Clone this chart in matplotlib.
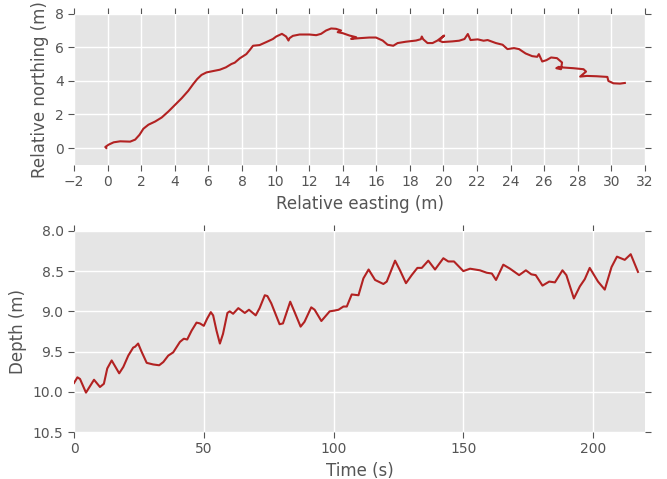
import matplotlib
matplotlib.use("Agg")
import matplotlib.pyplot as plt
import numpy as np

# horizontal track (m)
east = [-0.08, -0.14, 0.06, 0.36, 0.75, 1.34, 1.64, 1.90, 2.13, 2.43, 2.83, 3.22,
        3.62, 4.01, 4.41, 4.80, 5.10, 5.34, 5.59, 5.89, 6.28, 6.68, 7.04, 7.37,
        7.57, 7.87, 8.26, 8.46, 8.66, 9.05, 9.45, 9.84, 10.04, 10.38, 10.63, 10.77,
        10.83, 11.03, 11.43, 12.02, 12.42, 12.71, 13.01, 13.31, 13.60, 13.90, 13.70,
        14.0, 14.4, 14.8, 14.5, 14.99, 15.58, 15.98, 16.38, 16.67, 17.01, 17.27,
        17.76, 18.36, 18.65, 18.71, 18.79, 19.05, 19.35, 19.64, 20.04, 19.74, 19.94,
        20.53, 20.93, 21.25, 21.45, 21.61, 22.04, 22.39, 22.63, 23.12, 23.52, 23.81,
        24.20, 24.50, 24.89, 25.28, 25.58, 25.68, 25.88, 26.13, 26.41, 26.76, 27.06,
        27.00, 26.72, 26.86, 27.15, 27.74, 28.34, 28.49, 28.14, 28.54, 29.13, 29.76,
        29.82, 30.12, 30.51, 30.80]
north = [0.0, 0.06, 0.20, 0.34, 0.40, 0.38, 0.50, 0.79, 1.15, 1.39, 1.58, 1.82,
         2.18, 2.57, 2.97, 3.41, 3.82, 4.12, 4.36, 4.51, 4.59, 4.67, 4.81, 5.01,
         5.09, 5.35, 5.60, 5.84, 6.10, 6.14, 6.32, 6.50, 6.65, 6.81, 6.65, 6.41,
         6.55, 6.69, 6.77, 6.77, 6.73, 6.81, 7.01, 7.13, 7.11, 7.01, 6.91,
         6.85, 6.71, 6.61, 6.51, 6.55, 6.59, 6.59, 6.41, 6.16, 6.10, 6.26,
         6.34, 6.41, 6.49, 6.65, 6.49, 6.26, 6.26, 6.41, 6.71, 6.41, 6.32,
         6.36, 6.40, 6.50, 6.80, 6.44, 6.48, 6.40, 6.44, 6.26, 6.16, 5.90,
         5.96, 5.90, 5.64, 5.48, 5.44, 5.60, 5.16, 5.24, 5.40, 5.36, 5.10,
         4.70, 4.76, 4.84, 4.80, 4.76, 4.70, 4.56, 4.26, 4.30, 4.28, 4.24,
         4.00, 3.86, 3.84, 3.88]

# depth against time
time_s = [0, 1.3, 2.3, 4.6, 7.7, 10, 11.5, 12.8, 14.5, 17.4, 19, 20.9, 22.8, 23.5,
          24.7, 26, 28, 30.5, 32.8, 34.4, 36.3, 38.2, 40.8, 42.3, 43.6, 45.3, 47.2,
          48.5, 50, 51.3, 52.7, 53.6, 54.9, 56.2, 57.4, 59.1, 60, 61.3, 63.3, 65.8,
          67.4, 70, 71.5, 73.5, 74.5, 76, 79.2, 80.5, 83.3, 85, 87.3, 88.8, 91.4,
          92.7, 95.3, 98.5, 100.4, 101.9, 103.8, 105.1, 107, 109.6, 111.5, 113.5,
          116, 119.2, 120.5, 123.7, 125.6, 127.9, 130.1, 132.3, 134, 136.5, 139.1,
          142.3, 144.2, 146.4, 150, 152.6, 156.4, 159, 161, 162.6, 165.4, 168,
          171.5, 174.1, 176.2, 177.9, 180.5, 183.1, 185.3, 188.2, 189.7, 192.6,
          194.9, 196.8, 198.7, 201.9, 204.5, 207.1, 209.2, 212.2, 214.5, 217.3]
depth = [9.89, 9.82, 9.84, 10.01, 9.85, 9.94, 9.90, 9.71, 9.61, 9.77, 9.69, 9.55,
         9.45, 9.44, 9.40, 9.50, 9.64, 9.66, 9.67, 9.63, 9.55, 9.51, 9.38, 9.34,
         9.35, 9.24, 9.14, 9.15, 9.18, 9.09, 9.01, 9.05, 9.24, 9.40, 9.28, 9.02,
         9.00, 9.03, 8.96, 9.02, 8.98, 9.05, 8.96, 8.80, 8.81, 8.90, 9.16, 9.15,
         8.88, 9.01, 9.19, 9.13, 8.95, 8.98, 9.12, 9.00, 8.99, 8.98, 8.94, 8.94,
         8.79, 8.80, 8.59, 8.48, 8.61, 8.66, 8.63, 8.37, 8.49, 8.65, 8.55, 8.46,
         8.46, 8.37, 8.48, 8.34, 8.38, 8.38, 8.50, 8.47, 8.49, 8.52, 8.53, 8.61,
         8.42, 8.47, 8.55, 8.49, 8.54, 8.55, 8.68, 8.63, 8.64, 8.49, 8.55, 8.84,
         8.69, 8.60, 8.46, 8.63, 8.73, 8.45, 8.32, 8.36, 8.29, 8.51]

plt.style.use('ggplot')
plt.rcParams['axes.axisbelow'] = True

line_col = '#b22222'

fig = plt.figure(figsize=(6.67, 4.79), dpi=100)

ax1 = fig.add_axes([0.111, 0.656, 0.856, 0.315])
ax1.plot(east, north, color=line_col, lw=1.5)
ax1.set_xlim(-2, 32)
ax1.set_ylim(-1, 8)
ax1.set_xticks(np.arange(-2, 33, 2))
ax1.set_yticks(np.arange(0, 9, 2))
ax1.set_xlabel('Relative easting (m)')
ax1.set_ylabel('Relative northing (m)')

ax2 = fig.add_axes([0.111, 0.098, 0.856, 0.42])
ax2.plot(time_s, depth, color=line_col, lw=1.5)
ax2.set_xlim(0, 220)
ax2.set_ylim(10.5, 8.0)
ax2.set_xticks([0, 50, 100, 150, 200])
ax2.set_yticks(np.arange(8.0, 10.6, 0.5))
ax2.yaxis.set_major_formatter(matplotlib.ticker.FormatStrFormatter('%.1f'))
ax2.set_xlabel('Time (s)')
ax2.set_ylabel('Depth (m)')

for ax in (ax1, ax2):
    ax.tick_params(top=True, right=True, direction='out', length=4,
                   color='#555555', labelcolor='#555555', labelsize=10)
    ax.grid(True, color='white', lw=1)
    for s in ax.spines.values():
        s.set_visible(False)

plt.savefig('out.png')
